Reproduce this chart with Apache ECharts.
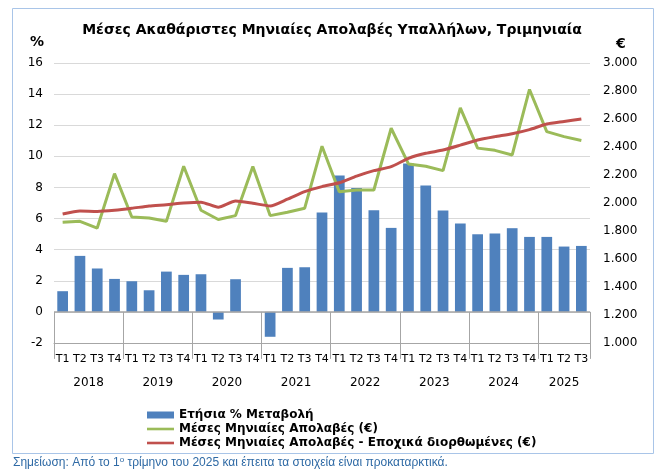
<!DOCTYPE html>
<html>
<head>
<meta charset="utf-8">
<script src="https://cdn.jsdelivr.net/npm/echarts@6/dist/echarts.min.js"></script>
<style>
html, body { margin: 0; padding: 0; background: #fff; }
#chart { width: 666px; height: 476px; }
</style>
</head>
<body>
<div id="chart"></div>
<script>
// quarter labels, one per bar
const quarters = [
    'T1', 'T2', 'T3', 'T4', 'T1', 'T2', 'T3', 'T4',
    'T1', 'T2', 'T3', 'T4', 'T1', 'T2', 'T3', 'T4',
    'T1', 'T2', 'T3', 'T4', 'T1', 'T2', 'T3', 'T4',
    'T1', 'T2', 'T3', 'T4', 'T1', 'T2', 'T3'
];
const years = ['2018', '2019', '2020', '2021', '2022', '2023', '2024', '2025'];
const quartersPerYear = [4, 4, 4, 4, 4, 4, 4, 3];

// Ετήσια % Μεταβολή (αριστερός άξονας)
const annualChange = [
    1.33, 3.60, 2.79, 2.12,
    1.97, 1.39, 2.59, 2.38,
    2.42, -0.49, 2.10, 0,
    -1.60, 2.83, 2.87, 6.39,
    8.76, 7.97, 6.54, 5.40,
    9.54, 8.12, 6.51, 5.68,
    4.99, 5.04, 5.38, 4.82,
    4.82, 4.20, 4.24
];
// Μέσες Μηνιαίες Απολαβές (€)
const avgEarnings = [
    1862, 1869, 1821, 2210,
    1900, 1893, 1869, 2262,
    1948, 1882, 1910, 2260,
    1910, 1934, 1963, 2406,
    2080, 2093, 2093, 2534,
    2279, 2262, 2231, 2680,
    2392, 2376, 2343, 2811,
    2510, 2474, 2447
];
// Μέσες Μηνιαίες Απολαβές - Εποχικά διορθωμένες (€)
const avgEarningsSA = [
    1921, 1943, 1940, 1948,
    1962, 1979, 1988, 2000,
    2006, 1970, 2014, 1998,
    1979, 2027, 2081, 2117,
    2145, 2192, 2231, 2260,
    2319, 2355, 2378, 2413,
    2450, 2474, 2495, 2524,
    2564, 2582, 2600
];

// year separators and year label positions on the quarter index scale
const yearEdges = [0];
const yearCenters = [];
quartersPerYear.forEach(n => {
    const start = yearEdges[yearEdges.length - 1];
    yearCenters.push(start + n / 2);
    yearEdges.push(start + n);
});

const FONT = 'DejaVu Sans';
// thin strip in the middle of the legend box, used as a line icon
const LINE_ICON = 'path://M0,0L0,0M0,2.2L27,2.2L27,4.8L0,4.8ZM27,7L27,7';

const chart = echarts.init(document.getElementById('chart'));

const option = {
    animation: false,
    textStyle: { fontFamily: FONT },
    graphic: [{
        type: 'rect',
        shape: { x: 12.5, y: 8.5, width: 641, height: 445 },
        style: { fill: 'none', stroke: '#a9c5e8', lineWidth: 1 },
        silent: true
    }],
    title: [{
        text: 'Μέσες Ακαθάριστες Μηνιαίες Απολαβές Υπαλλήλων, Τριμηνιαία',
        left: 327,
        top: 18,
        textAlign: 'center',
        textStyle: { fontFamily: FONT, fontSize: 14, fontWeight: 'bold', color: '#000' }
    }, {
        text: 'Σημείωση: Από το 1{sup|ο} τρίμηνο του 2025 και έπειτα τα στοιχεία είναι προκαταρκτικά.',
        left: 8,
        top: 451,
        textStyle: {
            fontFamily: 'Liberation Sans',
            fontSize: 12,
            fontWeight: 'normal',
            color: '#2f6aa5',
            rich: {
                sup: { fontFamily: 'Liberation Sans', fontSize: 8, color: '#2f6aa5', verticalAlign: 'top', padding: [0, 0, 5, 0] }
            }
        }
    }],
    legend: {
        orient: 'vertical',
        left: 142,
        top: 404,
        itemWidth: 27,
        itemHeight: 7,
        itemGap: 2,
        symbolKeepAspect: false,
        textStyle: { fontFamily: FONT, fontSize: 12, fontWeight: 'bold', color: '#000' },
        data: [
            { name: 'Ετήσια % Μεταβολή', icon: 'rect' },
            { name: 'Μέσες Μηνιαίες Απολαβές (€)', icon: LINE_ICON },
            { name: 'Μέσες Μηνιαίες Απολαβές - Εποχικά διορθωμένες (€)', icon: LINE_ICON }
        ]
    },
    grid: { left: 54, right: 76, top: 63, bottom: 133, containLabel: false },
    xAxis: [{
        type: 'category',
        data: quarters,
        position: 'bottom',
        boundaryGap: true,
        axisLine: { onZero: false, lineStyle: { color: '#a6a6a6', width: 1 } },
        axisTick: { show: false },
        axisLabel: { interval: 0, margin: 11, fontSize: 11, color: '#000', fontFamily: FONT }
    }, {
        type: 'value',
        min: 0,
        max: quarters.length,
        position: 'bottom',
        axisLine: { show: false },
        splitLine: { show: false },
        axisTick: {
            show: true,
            customValues: yearEdges,
            length: 47,
            lineStyle: { color: '#a6a6a6', width: 1 }
        },
        axisLabel: {
            customValues: yearCenters,
            margin: 34,
            fontSize: 12,
            color: '#000',
            fontFamily: FONT,
            formatter: v => years[yearCenters.indexOf(v)] || ''
        }
    }],
    yAxis: [{
        type: 'value',
        min: -2,
        max: 16,
        interval: 2,
        name: '%',
        nameLocation: 'end',
        nameGap: 14,
        nameTextStyle: { fontFamily: FONT, fontSize: 14, fontWeight: 'bold', color: '#000', align: 'right', padding: [0, 10, 0, 0] },
        axisLine: { show: false },
        axisTick: { show: false },
        axisLabel: { margin: 11, fontSize: 12, color: '#000', fontFamily: FONT },
        splitLine: { lineStyle: { color: '#d9d9d9', width: 1 } }
    }, {
        type: 'value',
        min: 1000,
        max: 3000,
        interval: 200,
        name: '€',
        nameLocation: 'end',
        nameGap: 12,
        nameTextStyle: { fontFamily: FONT, fontSize: 14, fontWeight: 'bold', color: '#000', align: 'left', padding: [0, 0, 0, 26] },
        axisLine: { show: false },
        axisTick: { show: false },
        splitLine: { show: false },
        axisLabel: {
            margin: 13,
            fontSize: 12,
            color: '#000',
            fontFamily: FONT,
            formatter: v => String(v).replace(/\B(?=(\d{3})+(?!\d))/g, '.')
        }
    }],
    series: [{
        name: 'Ετήσια % Μεταβολή',
        type: 'bar',
        xAxisIndex: 0,
        yAxisIndex: 0,
        data: annualChange,
        barCategoryGap: '38%',
        itemStyle: { color: '#4f81bd' },
        markLine: {
            silent: true,
            symbol: ['none', 'none'],
            label: { show: false },
            lineStyle: { color: '#a6a6a6', width: 1.5, type: 'solid' },
            data: [{ yAxis: 0 }]
        }
    }, {
        name: 'Μέσες Μηνιαίες Απολαβές (€)',
        type: 'line',
        xAxisIndex: 0,
        yAxisIndex: 1,
        data: avgEarnings,
        symbol: 'none',
        lineStyle: { color: '#9bbb59', width: 3 },
        itemStyle: { color: '#9bbb59' }
    }, {
        name: 'Μέσες Μηνιαίες Απολαβές - Εποχικά διορθωμένες (€)',
        type: 'line',
        xAxisIndex: 0,
        yAxisIndex: 1,
        data: avgEarningsSA,
        symbol: 'none',
        smooth: 0.2,
        lineStyle: { color: '#c0504d', width: 3 },
        itemStyle: { color: '#c0504d' }
    }]
};

chart.setOption(option);
</script>
</body>
</html>
